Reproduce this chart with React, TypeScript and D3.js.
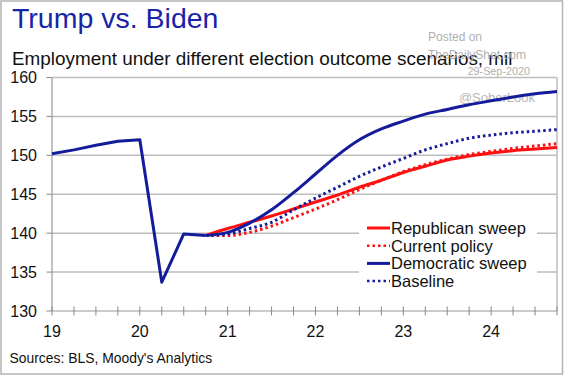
import React from "react";
import * as d3 from "d3";

const histPeriods = ["2019Q1", "2019Q2", "2019Q3", "2019Q4", "2020Q1", "2020Q2", "2020Q3", "2020Q4"];
const historyValues = [150.2, 150.7, 151.3, 151.8, 152.0, 133.7, 139.9, 139.7];

const fcPeriods = [
  "2020Q4", "2021Q1", "2021Q2", "2021Q3", "2021Q4", "2022Q1", "2022Q2", "2022Q3", "2022Q4",
  "2023Q1", "2023Q2", "2023Q3", "2023Q4", "2024Q1", "2024Q2", "2024Q3", "2024Q4",
];
const republicanSweep = [139.7, 140.6, 141.4, 142.2, 143.1, 144.0, 144.9, 145.9, 146.8, 147.8, 148.6, 149.4, 149.9, 150.3, 150.6, 150.8, 151.0];
const currentPolicy = [139.7, 139.7, 140.1, 140.9, 142.0, 143.1, 144.3, 145.6, 146.8, 147.9, 148.8, 149.5, 150.1, 150.5, 150.9, 151.2, 151.5];
const democraticSweep = [139.7, 140.1, 141.3, 143.0, 145.2, 147.6, 150.0, 152.0, 153.4, 154.4, 155.3, 155.9, 156.5, 157.0, 157.5, 157.9, 158.2];
const baseline = [139.7, 139.9, 140.6, 141.4, 143.0, 144.5, 145.9, 147.3, 148.5, 149.6, 150.7, 151.5, 152.2, 152.6, 152.9, 153.1, 153.3];

const yTicks = [130, 135, 140, 145, 150, 155, 160];
const xYears = [2019, 2020, 2021, 2022, 2023, 2024];
const xLabels = ["19", "20", "21", "22", "23", "24"];

const legendNames = ["Republican sweep", "Current policy", "Democratic sweep", "Baseline"];

const FONT = "'Liberation Sans', Arial, Helvetica, sans-serif";
const RED = "#ff1010";
const NAVY = "#141c9c";

function toYear(p: string): number {
  const y = +p.slice(0, 4);
  const q = +p.slice(5);
  return y + (q - 1) / 4;
}

export default function App() {
  const W = 564;
  const H = 376;
  const x = d3.scaleLinear().domain([2019, 2024.75]).range([52, 557]);
  const y = d3.scaleLinear().domain([130, 160]).range([311, 77.5]);

  const lineLin = d3
    .line<[number, number]>()
    .x((d) => x(d[0]))
    .y((d) => y(d[1]))
    .curve(d3.curveLinear);
  const lineSmooth = d3
    .line<[number, number]>()
    .x((d) => x(d[0]))
    .y((d) => y(d[1]))
    .curve(d3.curveMonotoneX);

  const hist: [number, number][] = histPeriods.map((p, i) => [toYear(p), historyValues[i]]);
  const mk = (vals: number[]): [number, number][] => fcPeriods.map((p, i) => [toYear(p), vals[i]]);

  const series = [
    { name: legendNames[0], data: mk(republicanSweep), color: RED, dash: null as string | null, w: 3 },
    { name: legendNames[1], data: mk(currentPolicy), color: RED, dash: "2.5,3", w: 3 },
    { name: legendNames[2], data: mk(democraticSweep), color: NAVY, dash: null, w: 3 },
    { name: legendNames[3], data: mk(baseline), color: NAVY, dash: "2.5,3", w: 3 },
  ];
  const drawOrder = [series[0], series[1], series[3], series[2]];

  const quarterTicks = d3.range(0, 24).map((i) => 2019 + i * 0.25);

  const legX = 367;
  const legY0 = 228;
  const legDy = 17.7;

  return (
    <svg
      width={W}
      height={H}
      style={{ position: "absolute", left: 0, top: 0, background: "#fff" }}
      fontFamily={FONT}
    >
      <rect x={1} y={1} width={W - 2.5} height={H - 3} fill="#fff" stroke="#b4b4b4" strokeWidth={1.5} />

      {/* Title */}
      <text x={12} y={28} fontSize={28.5} fill="#1a24a8">
        Trump vs. Biden
      </text>
      <text x={12} y={65} fontSize={18.9} fill="#111">
        Employment under different election outcome scenarios, mil
      </text>

      {/* Watermarks */}
      <g fill="#b0b0b0" fontSize={12}>
        <text x={428} y={41}>Posted on</text>
        <text x={428} y={59}>TheDailyShot.com</text>
        <text x={530} y={75} fontSize={10.8} textAnchor="end">29-Sep-2020</text>
      </g>

      {/* Grid */}
      {yTicks.map((t) => (
        <g key={t}>
          {t > 130 && (
            <line x1={52} x2={557} y1={y(t)} y2={y(t)} stroke="#bdbdbd" strokeWidth={1.5} />
          )}
          <line x1={46.5} x2={52} y1={y(t)} y2={y(t)} stroke="#888" strokeWidth={1} />
          <text x={37} y={y(t)} dy="0.36em" fontSize={16} textAnchor="end" fill="#111">
            {t}
          </text>
        </g>
      ))}
      <text x={535} y={102} fontSize={13} textAnchor="end" fill="#b8b8b8">
        @SoberLook
      </text>

      {/* Right border */}
      <line x1={557} x2={557} y1={y(160)} y2={y(130)} stroke="#bdbdbd" strokeWidth={1.5} />
      {/* Axes */}
      <line x1={52} x2={52} y1={y(160)} y2={y(130)} stroke="#999" strokeWidth={1.2} />
      <line x1={52} x2={557} y1={y(130)} y2={y(130)} stroke="#999" strokeWidth={1.2} />
      {quarterTicks.map((t) => (
        <line key={t} x1={x(t)} x2={x(t)} y1={y(130) - 4.5} y2={y(130) + 4.5} stroke="#888" strokeWidth={1} />
      ))}
      {xYears.map((yr, i) => (
        <text key={yr} x={x(yr)} y={337} fontSize={16} textAnchor="middle" fill="#111">
          {xLabels[i]}
        </text>
      ))}

      {/* Legend background */}
      <rect x={359} y={218} width={178} height={72} fill="#fff" />

      {/* Series */}
      <path d={lineLin(hist) || ""} fill="none" stroke={NAVY} strokeWidth={3} strokeLinejoin="round" />
      {drawOrder.map((s) => (
        <path
          key={s.name}
          d={lineSmooth(s.data) || ""}
          fill="none"
          stroke={s.color}
          strokeWidth={s.w}
          strokeDasharray={s.dash || undefined}
          strokeLinejoin="round"
        />
      ))}

      {/* Legend */}
      {series.map((s, i) => (
        <g key={s.name} transform={`translate(${legX},${legY0 + i * legDy})`}>
          <line x1={0} x2={23} y1={0} y2={0} stroke={s.color} strokeWidth={s.dash ? 2.5 : 3} strokeDasharray={s.dash || undefined} />
          <text x={24} y={0} dy="0.36em" fontSize={16.5} fill="#111">
            {s.name}
          </text>
        </g>
      ))}

      {/* Source */}
      <text x={9.5} y={363} fontSize={13.9} fill="#111">
        Sources: BLS, Moody's Analytics
      </text>
    </svg>
  );
}
